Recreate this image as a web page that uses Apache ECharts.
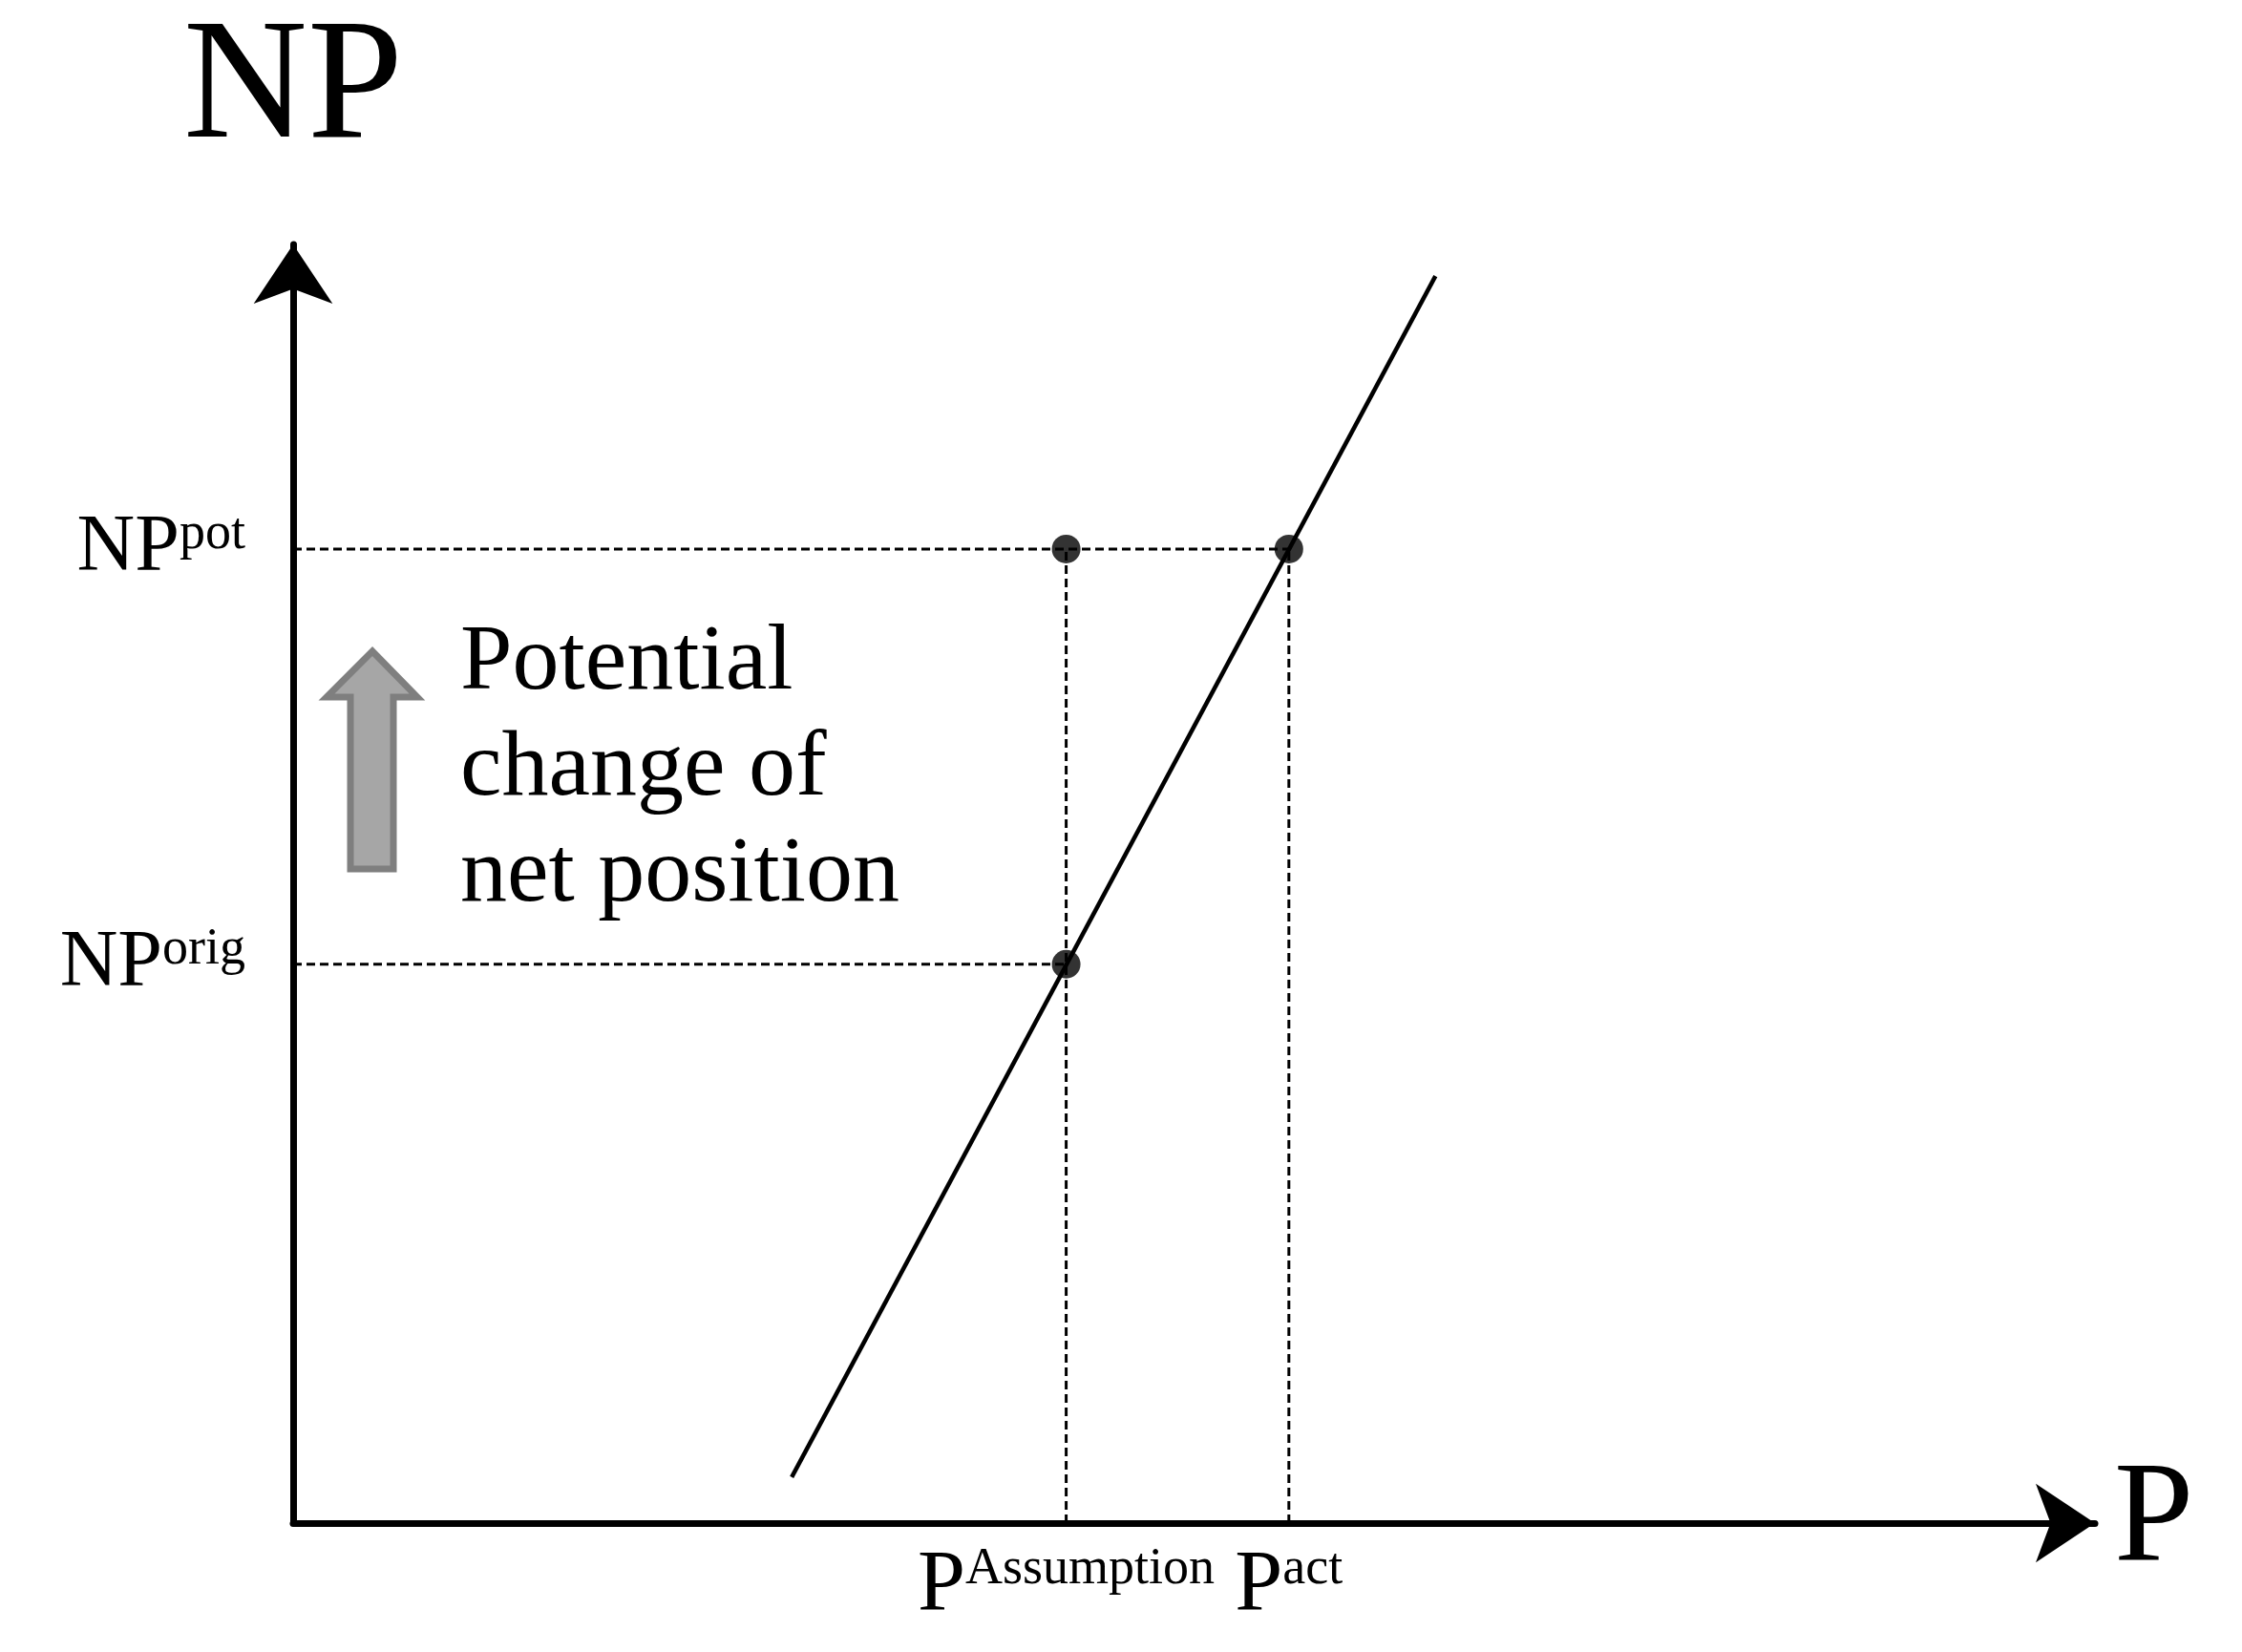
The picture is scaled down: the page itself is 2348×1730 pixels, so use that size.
<!DOCTYPE html>
<html lang="en">
<head>
<meta charset="UTF-8">
<title>NP vs P</title>
<style>html,body{margin:0;background:#fff}</style>
</head>
<body>
<div id="main" style="width:2348px;height:1730px;"></div>
<script src="https://cdn.jsdelivr.net/npm/echarts@6/dist/echarts.min.js"></script>
<script>
// data in chart units (x to the right, y up from the P axis)
var supplyX = [551, 999];
var supplyY = [32, 868];
var npOrig = 389;
var npPot = 678;
var pAssumption = 742;
var pAct = 897;
var xStart = 204;
var pointsX = [pAssumption, pAct, pAssumption];
var pointsY = [npPot, npPot, npOrig];
var yTickNames = ['orig', 'pot'];
var xTickNames = ['Assumption', 'act'];
var noteLines = ['Potential', 'change of', 'net position'];

var font = 'Liberation Serif';
var dash = {color: '#000', width: 3, type: [9, 5]};

function dashSeries(pts) {
    return {type: 'line', data: pts, symbol: 'none', lineStyle: dash, silent: true, z: 2};
}

var myChart = echarts.init(document.getElementById('main'));
var option = {
    backgroundColor: '#fff',
    animation: false,
    grid: {left: 307, right: 154, top: 256, bottom: 135},
    xAxis: {
        type: 'value', min: 204, max: 1458,
        splitLine: {show: false},
        axisLine: {lineStyle: {color: '#000', width: 7}, symbol: ['none', 'arrow'], symbolSize: [62, 62]},
        axisTick: {show: false},
        name: 'P', nameLocation: 'end', nameGap: 20,
        nameTextStyle: {fontFamily: font, fontSize: 150, color: '#000', verticalAlign: 'middle'},
        axisLabel: {
            customValues: [pAssumption, pAct], margin: 22,
            formatter: function (v) {
                return '{b|P}{s|' + (v === pAssumption ? xTickNames[0] : xTickNames[1]) + '}';
            },
            rich: {
                b: {fontFamily: font, fontSize: 90, color: '#000', lineHeight: 90},
                s: {fontFamily: font, fontSize: 54, color: '#000', verticalAlign: 'top', lineHeight: 90, padding: [0, 0, 0, 0]}
            }
        }
    },
    yAxis: {
        type: 'value', min: 0, max: 890,
        splitLine: {show: false},
        axisLine: {lineStyle: {color: '#000', width: 7}, symbol: ['none', 'arrow'], symbolSize: [62, 62]},
        axisTick: {show: false},
        name: 'NP', nameLocation: 'end', nameGap: 70,
        nameTextStyle: {fontFamily: font, fontSize: 180, color: '#000', align: 'center'},
        axisLabel: {
            customValues: [npOrig, npPot], margin: 50,
            formatter: function (v) {
                return '{b|NP}{s|' + (v === npOrig ? yTickNames[0] : yTickNames[1]) + '}';
            },
            rich: {
                b: {fontFamily: font, fontSize: 84, color: '#000', lineHeight: 84},
                s: {fontFamily: font, fontSize: 54, color: '#000', verticalAlign: 'top', lineHeight: 84}
            }
        }
    },
    graphic: [
        {
            type: 'polygon', z: 10,
            shape: {points: [[344, 682], [437, 682], [437, 730], [412, 730], [412, 910], [367, 910], [367, 730], [344, 730]].map(function (p) { return p; })},
            style: {fill: '#a6a6a6', stroke: '#7f7f7f', lineWidth: 7}
        },
        {
            type: 'text', left: 482, top: 640, z: 10,
            style: {text: noteLines.join('\n'), fontFamily: font, fontSize: 98, lineHeight: 111, fill: '#000'}
        }
    ],
    series: [
        dashSeries([[xStart, npPot], [pAct, npPot]]),
        dashSeries([[xStart, npOrig], [pAssumption, npOrig]]),
        dashSeries([[pAssumption, 0], [pAssumption, npPot]]),
        dashSeries([[pAct, 0], [pAct, npPot]]),
        {
            type: 'line', symbol: 'none', silent: true, z: 3,
            data: supplyX.map(function (x, i) { return [x, supplyY[i]]; }),
            lineStyle: {color: '#000', width: 4.5}
        },
        {
            type: 'scatter', symbolSize: 30, z: 4,
            itemStyle: {color: '#000'},
            data: pointsX.map(function (x, i) { return [x, pointsY[i]]; })
        }
    ]
};
// fix arrow polygon: tip at top
option.graphic[0].shape.points = [[390, 682], [437, 730], [412, 730], [412, 910], [367, 910], [367, 730], [342, 730]];
myChart.setOption(option);
</script>
</body>
</html>
